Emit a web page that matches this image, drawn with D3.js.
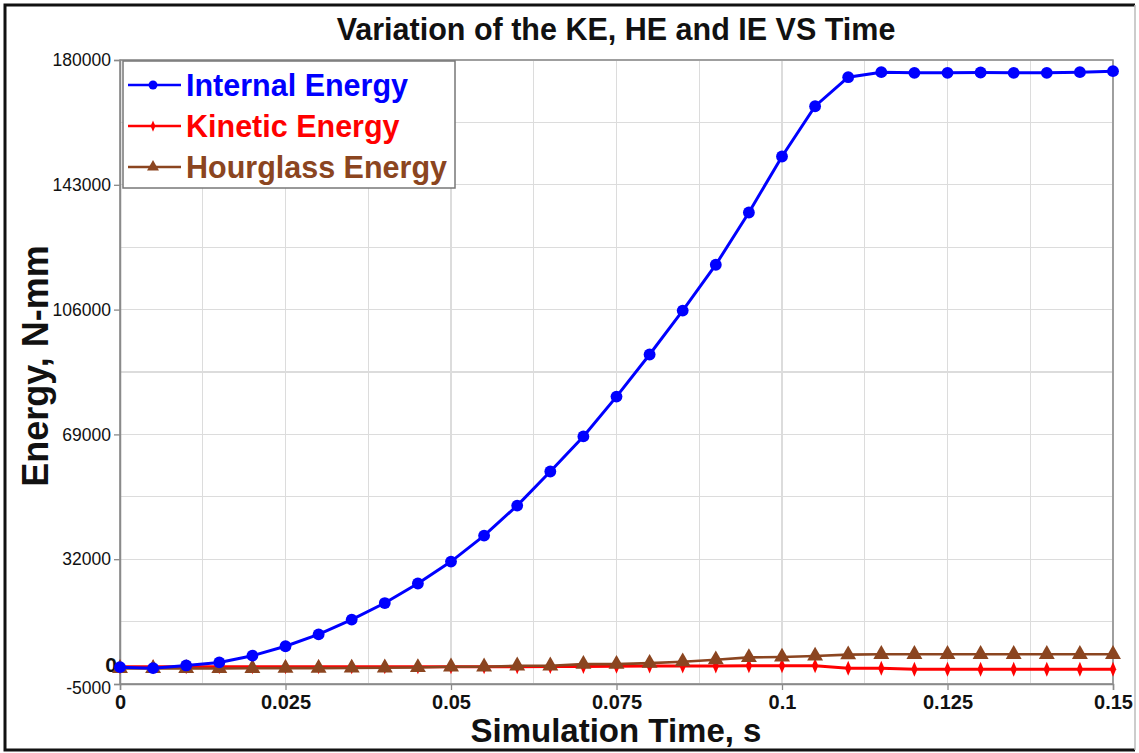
<!DOCTYPE html>
<html>
  <meta charset="utf-8">
  <script src="https://cdn.jsdelivr.net/npm/d3@7"></script>
  <style>
    body { margin: 0; background: #fff; }
    text { font-family: Arial, "Liberation Sans", sans-serif; }
    .grid line { stroke: #dcdcdc; stroke-width: 1.3; shape-rendering: crispEdges; }
  </style>
  <body>
    <script>
// chart values
var time = [0, 0.005, 0.01, 0.015, 0.02, 0.025, 0.03, 0.035, 0.04, 0.045, 0.05,
  0.055, 0.06, 0.065, 0.07, 0.075, 0.08, 0.085, 0.09, 0.095, 0.1,
  0.105, 0.11, 0.115, 0.12, 0.125, 0.13, 0.135, 0.14, 0.145, 0.15]
var internalEnergy = [0, -300, 500, 1400, 3400, 6200, 9700, 14100, 19000, 24800, 31300,
  39000, 47900, 58000, 68400, 80200, 92700, 105700, 119300, 134800, 151400,
  166300, 174900, 176400, 176200, 176200, 176300, 176200, 176200, 176400, 176700]
var kineticEnergy = [100, 100, 100, 100, 100, 100, 100, 100, 100, 100, 100,
  100, 150, 200, 200, 250, 300, 350, 350, 400, 400,
  400, -300, -300, -600, -600, -600, -600, -600, -600, -600]
var hourglassEnergy = [-400, -400, -400, -400, -350, -300, -300, -250, -200, -100, 100,
  100, 400, 400, 900, 900, 1200, 1600, 2200, 2900, 3000,
  3300, 3700, 3800, 3800, 3800, 3800, 3800, 3800, 3800, 3800]

var xTicks = [0, 0.025, 0.05, 0.075, 0.1, 0.125, 0.15]
var xTickLabels = ['0', '0.025', '0.05', '0.075', '0.1', '0.125', '0.15']
var xMinor = [0.0125, 0.0375, 0.0625, 0.0875, 0.1125, 0.1375]
var yTicks = [-5000, 32000, 69000, 106000, 143000, 180000]
var yTickLabels = ['-5000', '32000', '69000', '106000', '143000', '180000']
var yMinor = [13500, 50500, 87500, 124500, 161500]

var series = [
  { name: 'Internal Energy', values: internalEnergy, color: '#0000ff', marker: 'circle' },
  { name: 'Kinetic Energy', values: kineticEnergy, color: '#ff0000', marker: 'diamond' },
  { name: 'Hourglass Energy', values: hourglassEnergy, color: '#8b4520', marker: 'triangle' }
]

var W = 1139, H = 753
  , m = { left: 120, right: 26, top: 60, bottom: 69 }
  , pw = W - m.left - m.right, ph = H - m.top - m.bottom

var svg = d3.select('body').append('svg').attr('width', W).attr('height', H)

var x = d3.scaleLinear().domain([0, 0.15]).range([m.left, m.left + pw])
var y = d3.scaleLinear().domain([-5000, 180000]).range([m.top + ph, m.top])

// outer frame
svg.append('path')
  .attr('d', 'M1135,5H5V750H1135')
  .attr('fill', 'none').attr('stroke', '#111').attr('stroke-width', 3)
svg.append('line').attr('x1', 1135).attr('x2', 1135).attr('y1', 5).attr('y2', 750)
  .attr('stroke', '#bbb').attr('stroke-width', 1.5)

// grid
var grid = svg.append('g').attr('class', 'grid')
grid.selectAll('.gx').data(xTicks.concat(xMinor)).enter().append('line')
  .attr('x1', function(d){ return x(d) }).attr('x2', function(d){ return x(d) })
  .attr('y1', m.top).attr('y2', m.top + ph)
grid.selectAll('.gy').data(yTicks.concat(yMinor)).enter().append('line')
  .attr('y1', function(d){ return y(d) }).attr('y2', function(d){ return y(d) })
  .attr('x1', m.left).attr('x2', m.left + pw)

// plot frame
svg.append('rect')
  .attr('x', m.left).attr('y', m.top).attr('width', pw).attr('height', ph)
  .attr('fill', 'none').attr('stroke', '#8a8a8a').attr('stroke-width', 1.5)

// axes
var xAxis = svg.append('g').attr('transform', 'translate(0,' + (m.top + ph) + ')')
  .call(d3.axisBottom(x).tickValues(xTicks).tickSize(6).tickPadding(5)
    .tickFormat(function(d, i){ return xTickLabels[i] }))
xAxis.selectAll('text').attr('font-size', 20).attr('font-weight', 'bold').attr('fill', '#111')
  .style('font-family', 'Arial, "Liberation Sans", sans-serif')

var yAxis = svg.append('g').attr('transform', 'translate(' + m.left + ',0)')
  .call(d3.axisLeft(y).tickValues(yTicks).tickSize(6).tickPadding(3)
    .tickFormat(function(d, i){ return yTickLabels[i] }))
yAxis.selectAll('text').attr('font-size', 17.5).attr('fill', '#111')
  .style('font-family', 'Arial, "Liberation Sans", sans-serif')
// -5000 sits a bit lower, under the zero label
yAxis.selectAll('.tick').filter(function(d){ return d == -5000 })
  .select('text').attr('y', 4)
svg.selectAll('.domain').attr('stroke', '#8a8a8a').attr('stroke-width', 1.5)
svg.selectAll('.tick line').attr('stroke', '#8a8a8a').attr('stroke-width', 1.3)

// the extra zero label
svg.append('text').attr('x', m.left - 3).attr('y', y(0) - 2).attr('dy', '0.35em')
  .attr('text-anchor', 'end').attr('font-size', 21).attr('font-weight', 'bold')
  .attr('fill', '#111').text('0')

// series
var line = d3.line()
  .x(function(d, i){ return x(time[i]) })
  .y(function(d){ return y(d) })

var symbols = {
  circle: d3.symbol().type(d3.symbolCircle).size(110),
  triangle: d3.symbol().type(d3.symbolTriangle).size(110),
  diamond: function(){ return 'M0,-7.5L3.2,0L0,7.5L-3.2,0Z' }
}

var drawOrder = [series[1], series[2], series[0]]
drawOrder.forEach(function(s){
  var g = svg.append('g')
  g.append('path').datum(s.values)
    .attr('d', line).attr('fill', 'none')
    .attr('stroke', s.color).attr('stroke-width', s.marker == 'triangle' ? 2.6 : 3)
  g.selectAll('path.mk').data(s.values).enter().append('path')
    .attr('class', 'mk')
    .attr('d', symbols[s.marker])
    .attr('transform', function(d, i){ return 'translate(' + x(time[i]) + ',' + y(d) + ')' })
    .attr('fill', s.color)
})

// legend
var lg = svg.append('g')
lg.append('rect').attr('x', 123).attr('y', 61).attr('width', 332).attr('height', 127)
  .attr('fill', '#fff').attr('stroke', '#777').attr('stroke-width', 1.5)
series.forEach(function(s, i){
  var cy = 85 + i * 41
  lg.append('line').attr('x1', 128).attr('x2', 181).attr('y1', cy).attr('y2', cy)
    .attr('stroke', s.color).attr('stroke-width', 2.5)
  lg.append('path').attr('d', symbols[s.marker])
    .attr('transform', 'translate(153,' + cy + ') scale(0.75)').attr('fill', s.color)
  lg.append('text').attr('x', 186).attr('y', cy).attr('dy', '0.36em')
    .attr('font-size', 30.5).attr('font-weight', 'bold').attr('fill', s.color)
    .text(s.name)
})

// titles
svg.append('text').attr('x', 616).attr('y', 40).attr('text-anchor', 'middle')
  .attr('font-size', 30.5).attr('font-weight', 'bold').attr('fill', '#111')
  .text('Variation of the KE, HE and IE VS Time')
svg.append('text').attr('x', 616).attr('y', 742).attr('text-anchor', 'middle')
  .attr('font-size', 33).attr('font-weight', 'bold').attr('fill', '#111')
  .text('Simulation Time, s')
svg.append('text').attr('transform', 'translate(48,366) rotate(-90)')
  .attr('text-anchor', 'middle')
  .attr('font-size', 36).attr('font-weight', 'bold').attr('fill', '#111')
  .text('Energy, N-mm')
    </script>
  </body>
</html>
